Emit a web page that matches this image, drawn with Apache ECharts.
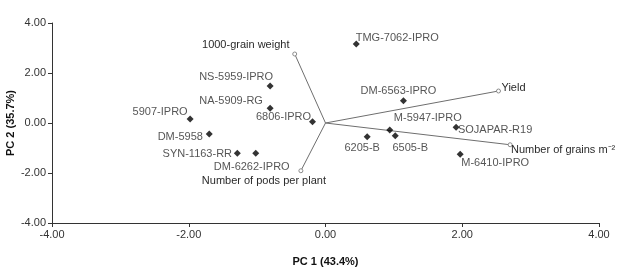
<!DOCTYPE html>
<html><head><meta charset="utf-8">
<script src="https://cdn.jsdelivr.net/npm/echarts@6/dist/echarts.min.js"></script>
<style>html,body{margin:0;padding:0;background:#fff}#c{width:624px;height:272px}</style>
</head><body><div id="c"></div>
<script>
// Genotype scores (PC1, PC2)
var genotypes = ["TMG-7062-IPRO","NS-5959-IPRO","NA-5909-RG","6806-IPRO","5907-IPRO","DM-5958","SYN-1163-RR","DM-6262-IPRO","DM-6563-IPRO","M-5947-IPRO","SOJAPAR-R19","6205-B","6505-B","M-6410-IPRO"];
var pc1 = [0.45,-0.81,-0.81,-0.19,-1.98,-1.70,-1.29,-1.02,1.14,0.94,1.91,0.61,1.02,1.97];
var pc2 = [3.16,1.48,0.59,0.05,0.16,-0.44,-1.21,-1.21,0.89,-0.28,-0.17,-0.55,-0.51,-1.25];
// Trait vectors
var traits = ["1000-grain weight","Yield","Number of grains m\u207B\u00B2","Number of pods per plant"];
var traitPC1 = [-0.45,2.53,2.70,-0.36];
var traitPC2 = [2.76,1.28,-0.87,-1.91];
// Axis ticks
var xTicks = [-4,-2,0,2,4];
var yTicks = [-4,-2,0,2,4];

// label layout (pixel offsets of label centre from the point)
var genoLabelOffset = {
  "TMG-7062-IPRO":[41,-6],"NS-5959-IPRO":[-34,-9],"NA-5909-RG":[-39,-7],"6806-IPRO":[-29,-5],
  "5907-IPRO":[-30,-7],"DM-5958":[-29,3],"SYN-1163-RR":[-40,1],"DM-6262-IPRO":[-4,14],
  "DM-6563-IPRO":[-5,-10],"M-5947-IPRO":[38,-12],"SOJAPAR-R19":[39,3],"6205-B":[-5,11],
  "6505-B":[15,12],"M-6410-IPRO":[35,9]
};
var traitLabelOffset = [[-49,-9],[15,-3],[53,5],[-37,10]];

var FONT = "'Liberation Sans Narrow','Arial Narrow','Liberation Sans',Arial,sans-serif";
var FS = 11;

var series = [];
traits.forEach(function(t,i){
  series.push({
    type:'line', silent:true, z:2,
    lineStyle:{color:'#6e6e6e',width:1},
    itemStyle:{color:'#fff',borderColor:'#8a8a8a',borderWidth:1},
    symbol:'circle', symbolSize:4, showSymbol:true,
    data:[
      {value:[0,0],symbol:'none'},
      {value:[traitPC1[i],traitPC2[i]],
       label:{show:true,formatter:t,position:'inside',offset:traitLabelOffset[i],
              color:'#2a2a2a',fontSize:FS,fontFamily:FONT}}
    ],
    animation:false
  });
});
series.push({
  type:'scatter', z:3, symbol:'diamond', symbolSize:7,
  itemStyle:{color:'#000'},
  data: genotypes.map(function(g,i){
    return {name:g,value:[pc1[i],pc2[i]],
      label:{show:true,formatter:g,position:'inside',offset:genoLabelOffset[g],
             color:'#2a2a2a',fontSize:FS,fontFamily:FONT}};
  }),
  animation:false
});

var axisCommon = {
  splitLine:{show:false},
  axisLine:{show:true,onZero:false,lineStyle:{color:'#333',width:1}},
  axisTick:{show:true,inside:false,length:4,lineStyle:{color:'#333'}},
  axisLabel:{color:'#333',fontSize:FS,fontFamily:FONT,margin:6,formatter:function(v){return v.toFixed(2);}},
  nameTextStyle:{color:'#111',fontSize:FS,fontWeight:'bold',fontFamily:FONT},
  nameMoveOverlap:false
};
var chart = echarts.init(document.getElementById('c'),null,{renderer:'canvas'});
chart.setOption({
  animation:false,
  grid:{left:52,right:25,top:23,bottom:49,containLabel:false,outerBoundsMode:'none'},
  xAxis:Object.assign({type:'value',min:xTicks[0],max:xTicks[xTicks.length-1],interval:xTicks[1]-xTicks[0],
    name:'PC 1 (43.4%)',nameLocation:'middle',nameGap:33},axisCommon),
  yAxis:Object.assign({type:'value',min:yTicks[0],max:yTicks[yTicks.length-1],interval:yTicks[1]-yTicks[0],
    name:'PC 2 (35.7%)',nameLocation:'middle',nameGap:36},axisCommon),
  series:series
});
</script></body></html>
